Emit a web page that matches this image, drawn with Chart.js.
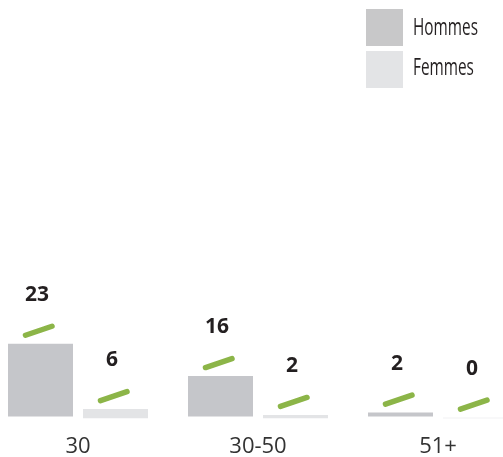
<!DOCTYPE html>
<html>
<head>
<meta charset="utf-8">
<script src="https://cdn.jsdelivr.net/npm/chart.js@4"></script>
<style>
  html, body { margin: 0; padding: 0; background: #fff; }
  #wrap { position: relative; width: 503px; height: 457px; overflow: hidden; }
  #chartBox { position: absolute; left: -12px; top: 0; width: 540px; height: 457px; }
  .leg { position: absolute; left: 366px; width: 37px; height: 37px; }
  .legText { position: absolute; left: 413px; font-family: "Open Sans", sans-serif;
             font-size: 24px; color: #231f20; line-height: 1;
             transform: scaleX(0.64); transform-origin: 0 0; white-space: nowrap; }
</style>
</head>
<body>
<div id="wrap">
  <div id="chartBox"><canvas id="ageChart" width="540" height="457"></canvas></div>
  <div class="leg" style="top:9px;background:#c8c8c9;"></div>
  <div class="legText" style="top:14px;">Hommes</div>
  <div class="leg" style="top:51px;background:#e3e4e6;"></div>
  <div class="legText" style="top:54px;">Femmes</div>
</div>
<script>
// categories and values
const ageGroups = ['30', '30-50', '51+'];
const hommesCount = [23, 16, 2];
const femmesCount = [6, 2, 0];
// bar lengths as drawn in the picture (not proportional to the counts)
const hommesBar = [23, 12.8, 1.25];
const femmesBar = [3.0, 1.15, 0.3];
const femmesBase = -0.65;

const labelFont = '"Open Sans", sans-serif';

// green tick + bold count above every bar
const markerPlugin = {
    id: 'markers',
    afterDatasetsDraw(chart) {
        const ctx = chart.ctx;
        const counts = [hommesCount, femmesCount];
        chart.data.datasets.forEach((ds, i) => {
            const meta = chart.getDatasetMeta(i);
            meta.data.forEach((bar, j) => {
                const x = bar.x, y = bar.y;
                ctx.save();
                ctx.strokeStyle = '#8cb548';
                ctx.lineWidth = 5.5;
                ctx.lineCap = 'round';
                ctx.beginPath();
                ctx.moveTo(x - 15, y - 8.5);
                ctx.lineTo(x + 11.5, y - 17.5);
                ctx.stroke();
                ctx.fillStyle = '#231f20';
                ctx.font = 'bold 21px ' + labelFont;
                ctx.textAlign = 'center';
                ctx.textBaseline = 'middle';
                ctx.fillText(String(counts[i][j]), x - 3.5, y - 49);
                ctx.restore();
            });
        });
    }
};

new Chart(document.getElementById('ageChart'), {
    type: 'bar',
    data: {
        labels: ageGroups,
        datasets: [{
            label: 'Hommes',
            data: hommesBar,
            backgroundColor: '#c5c6ca',
            categoryPercentage: 0.8333,
            barPercentage: 0.8667
        }, {
            label: 'Femmes',
            data: femmesBar.map(v => v + femmesBase),
            base: femmesBase,
            backgroundColor: '#e3e4e6',
            categoryPercentage: 0.8333,
            barPercentage: 0.8667
        }]
    },
    options: {
        responsive: false,
        devicePixelRatio: 1,
        animation: false,
        layout: { padding: { top: 100, bottom: -18, left: 0, right: 0 } },
        plugins: {
            legend: { display: false },
            tooltip: { enabled: false }
        },
        scales: {
            y: { display: false, min: femmesBase, max: 100 },
            x: {
                grid: { display: false, drawTicks: false },
                border: { display: false },
                ticks: {
                    padding: 15,
                    color: '#333333',
                    font: { family: labelFont, size: 22 }
                }
            }
        }
    },
    plugins: [markerPlugin]
});
</script>
</body>
</html>
